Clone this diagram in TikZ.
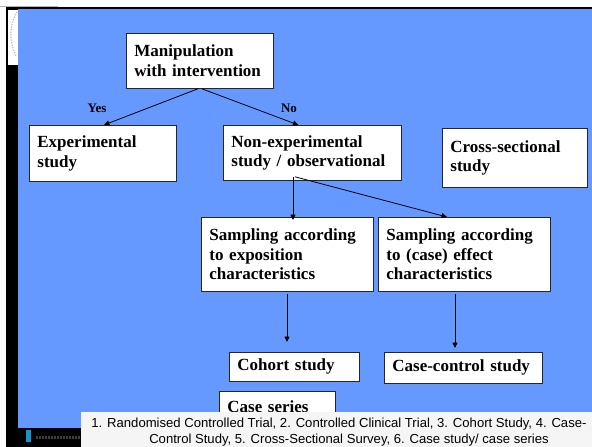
\documentclass[tikz,border=0pt]{standalone}
\usepackage{fontspec}
\setmainfont{Liberation Serif}
\newfontfamily\capfont{Liberation Sans}
\usetikzlibrary{arrows.meta,calc}
\definecolor{slideblue}{RGB}{102,153,255}
\definecolor{capgray}{RGB}{245,245,245}
\definecolor{tealmark}{RGB}{20,150,200}
\begin{document}
\begin{tikzpicture}[x=1pt,y=-1pt,
  box/.style={draw=black!85, line width=0.8pt, fill=white, anchor=north west,
    align=left, inner xsep=8pt, inner ysep=0pt,
    font=\bfseries\fontsize{17}{19.5}\selectfont},
  arr/.style={line width=0.8pt, -{Triangle[length=5.5pt,width=5pt]}},
  yn/.style={font=\bfseries\fontsize{13}{14}\selectfont, inner sep=0pt},
  captext/.style={font=\capfont\fontsize{13.1}{16.5}\selectfont, align=center}]
\useasboundingbox (0,0) rectangle (592,447);
\fill[white] (0,0) rectangle (592,447);

% slide frame and background
\fill[black] (6,7) rectangle (592,447);
\draw[gray!60, line width=0.6pt] (0,6) -- (58,6);
\fill[white] (8,10) rectangle (18,65);
\draw[gray!55, line width=1.2pt, dash pattern=on 1.2pt off 1.4pt]
  (17,12) .. controls (9,26) and (9,40) .. (16,56);
\fill[slideblue] (18,9) rectangle (592,428);
\fill[tealmark] (26,430) rectangle (31,442);
\draw[black!75, line width=3pt, dash pattern=on 2pt off 1pt] (36,437) -- (81,437);

% study-design boxes
\node[box, text width=131pt, minimum height=55pt] (manip) at (126,33) {Manipulation\\with intervention};
\node[box, text width=131pt, minimum height=56pt] (exper) at (29,125) {Experimental\\study};
\node[box, text width=162pt, minimum height=55pt] (nonexp) at (223,125) {Non-experimental\\study / observational};
\node[box, text width=129pt, minimum height=59pt] (cross) at (442,128) {Cross-sectional\\study};
\node[box, text width=156pt, minimum height=74pt] (sampE) at (201,217) {Sampling according\\to exposition\\characteristics};
\node[box, text width=156pt, minimum height=74pt] (sampC) at (378,217) {Sampling according\\to (case) effect\\characteristics};
\node[box, text width=114pt, minimum height=29pt] (cohort) at (229,352) {Cohort study};
\node[box, text width=142pt, minimum height=31pt] (cc) at (384,352) {Case-control study};
\node[box, text width=100pt, minimum height=30pt] (series) at (219,391) {Case series};

% branch labels
\node[yn] (yes) at (97,108) {Yes};
\node[yn] (no) at (289,108) {No};

% connectors
\draw[arr] ([xshift=-2pt]manip.south) -- ([xshift=1pt]exper.north);
\draw[arr] ([xshift=2pt]manip.south) -- ([xshift=-14pt]nonexp.north);
\draw[arr] ($(nonexp.south west)+(70,-4)$) -- ($(sampE.north west)+(92,3)$);
\draw[arr] ($(nonexp.south west)+(72,-4)$) -- ($(sampC.north west)+(69,0)$);
\draw[arr] ($(sampE.south west)+(86,2)$) -- ($(cohort.north west)+(58,-10)$);
\draw[arr] ($(sampC.south west)+(77,2)$) -- ($(cc.north west)+(71,-4)$);

% caption strip
\fill[capgray] (81,412) rectangle (592,447);
\node[captext] (cap) at (339,432) {1. Randomised Controlled Trial, 2. Controlled Clinical Trial, 3. Cohort Study, 4. Case-\\\hspace*{20pt}Control Study, 5. Cross-Sectional Survey, 6. Case study/ case series};
\end{tikzpicture}
\end{document}
